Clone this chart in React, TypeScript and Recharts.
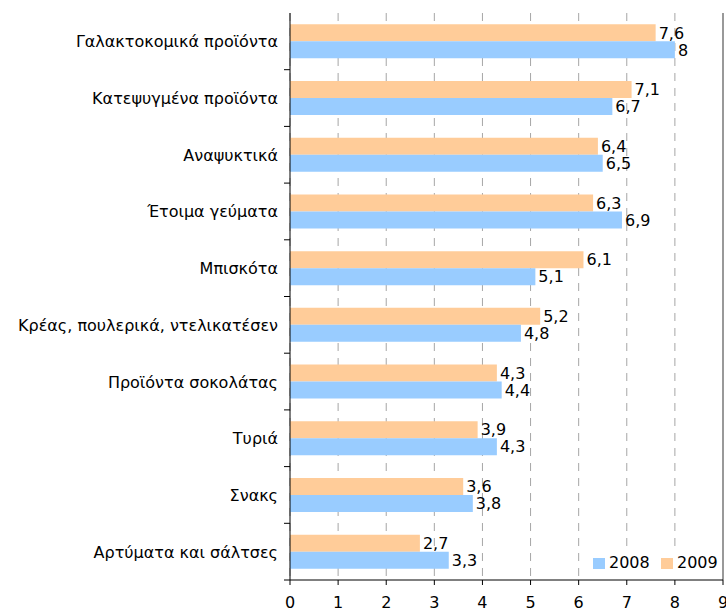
import { Bar, BarChart, CartesianGrid, LabelList, ReferenceLine, XAxis, YAxis } from "recharts";

const categories = [
  "Γαλακτοκομικά προϊόντα",
  "Κατεψυγμένα προϊόντα",
  "Αναψυκτικά",
  "Έτοιμα γεύματα",
  "Μπισκότα",
  "Κρέας, πουλερικά, ντελικατέσεν",
  "Προϊόντα σοκολάτας",
  "Τυριά",
  "Σνακς",
  "Αρτύματα και σάλτσες",
];
const values2008 = [8, 6.7, 6.5, 6.9, 5.1, 4.8, 4.4, 4.3, 3.8, 3.3];
const values2009 = [7.6, 7.1, 6.4, 6.3, 6.1, 5.2, 4.3, 3.9, 3.6, 2.7];
const xTicks = [0, 1, 2, 3, 4, 5, 6, 7, 8, 9];

const data = categories.map((name, i) => ({ name, y2008: values2008[i], y2009: values2009[i] }));

const FONT = "'DejaVu Sans', Verdana, sans-serif";
const FS = 16;
const W = 726;
const H = 612;
const TOP = 13;
const AXIS_H = 32;
const LEFT_W = 290;
const BAND = (H - TOP - AXIS_H) / categories.length;

const BLUE = "#99CCFF";
const ORANGE = "#FFCC99";

const fmt = (v: unknown) => String(v).replace(".", ",");

// category label at band centre, small tick at the band's lower edge (excel style)
function CategoryTick(props: any) {
  const { y, payload } = props;
  return (
    <g>
      <text x={LEFT_W - 12} y={y} dy={6} textAnchor="end" fontSize={FS} fill="#000" fontFamily={FONT}>
        {payload.value}
      </text>
      <line x1={LEFT_W - 6} x2={LEFT_W} y1={y + BAND / 2} y2={y + BAND / 2} stroke="#000" />
    </g>
  );
}

function LegendBox() {
  const item = (color: string, label: string, left: number) => (
    <span style={{ position: "absolute", left, top: 6, display: "flex", alignItems: "center" }}>
      <span style={{ display: "inline-block", width: 12, height: 11, background: color, marginRight: 4 }} />
      <span>{label}</span>
    </span>
  );
  return (
    <div
      style={{
        position: "absolute",
        left: 585,
        top: 548,
        width: 136,
        height: 30,
        fontFamily: FONT,
        fontSize: FS,
        lineHeight: "18px",
        color: "#000",
        background: "#fff",
        whiteSpace: "nowrap",
      }}
    >
      {item(BLUE, "2008", 8)}
      {item(ORANGE, "2009", 76)}
    </div>
  );
}

export default function App() {
  return (
    <div style={{ position: "absolute", left: 0, top: 0, width: W, height: H, background: "#fff", overflow: "hidden" }}>
      <BarChart
        width={W}
        height={H}
        data={data}
        layout="vertical"
        margin={{ top: TOP, right: 3, bottom: 0, left: 0 }}
        barCategoryGap="20%"
        barGap={0}
      >
        <CartesianGrid horizontal={false} stroke="#a6a6a6" strokeDasharray="8 7" />
        <ReferenceLine x={9} stroke="#999" strokeWidth={2} />
        <XAxis
          type="number"
          domain={[0, 9]}
          ticks={xTicks}
          interval={0}
          height={AXIS_H}
          axisLine={{ stroke: "#000" }}
          tickLine={{ stroke: "#000" }}
          tickSize={5}
          tickMargin={12}
          tick={{ fill: "#000", fontSize: FS, fontFamily: FONT }}
          allowDataOverflow
        />
        <YAxis
          type="category"
          dataKey="name"
          width={LEFT_W}
          axisLine={{ stroke: "#000" }}
          tickLine={false}
          tick={<CategoryTick />}
          interval={0}
        />
        <Bar dataKey="y2009" name="2009" fill={ORANGE} isAnimationActive={false}>
          <LabelList dataKey="y2009" position="right" offset={3} formatter={fmt} fill="#000" fontSize={FS} fontFamily={FONT} />
        </Bar>
        <Bar dataKey="y2008" name="2008" fill={BLUE} isAnimationActive={false}>
          <LabelList dataKey="y2008" position="right" offset={3} formatter={fmt} fill="#000" fontSize={FS} fontFamily={FONT} />
        </Bar>
      </BarChart>
      <LegendBox />
    </div>
  );
}
